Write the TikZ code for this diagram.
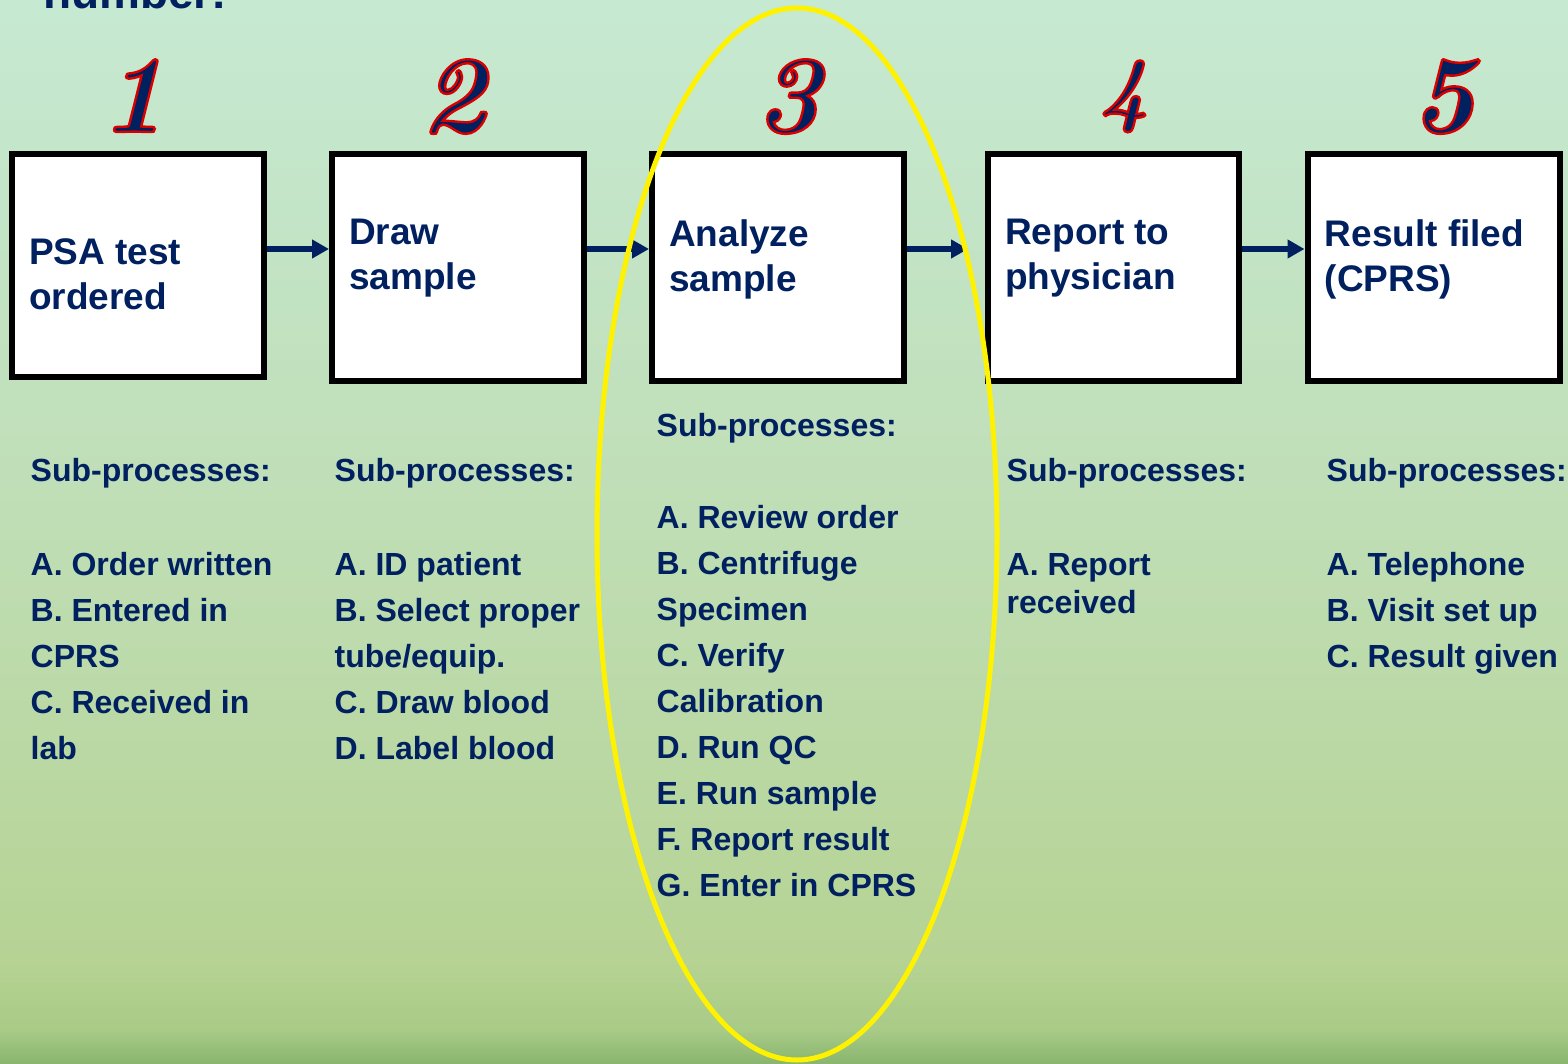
\documentclass[tikz,border=0pt]{standalone}
\usepackage{fontspec}
\setsansfont{Liberation Sans}
\usepackage{tikz}
\usetikzlibrary{arrows.meta, positioning, calc}
\definecolor{navyText}{RGB}{0,32,96}
\definecolor{bgA}{RGB}{198,233,210}
\definecolor{bgB}{RGB}{192,223,184}
\definecolor{bgC}{RGB}{182,211,148}
\definecolor{bgD}{RGB}{168,203,134}
\definecolor{bgE}{RGB}{137,181,111}
% filled glyphs with a red stroke round them
\newcommand\redrim[1]{\special{pdf:code q 2 Tr 2.4 w 0.85 0 0 RG}#1\special{pdf:code Q}}

\begin{document}
\begin{tikzpicture}[x=1pt, y=-1pt,
  stage/.style={draw=black, line width=6pt, fill=white, inner sep=0pt, minimum width=252pt, minimum height=227pt},
  title/.style={anchor=north west, inner sep=0pt, align=left, text=navyText, font=\sffamily\bfseries\fontsize{37}{45}\selectfont},
  sublist/.style={anchor=north west, inner sep=0pt, align=left, text=navyText, font=\sffamily\bfseries\fontsize{32}{46}\selectfont},
  stagenum/.style={anchor=base, inner sep=0pt, text=navyText, font=\rmfamily\bfseries\itshape\fontsize{110}{110}\selectfont},
  flow/.style={draw=navyText, line width=6pt, -{Triangle[length=17pt, width=18pt]}},
  ring/.style={draw=yellow, line width=5pt}]
\useasboundingbox (0,0) rectangle (1568,1064);
\clip (0,0) rectangle (1568,1064);
% background
\shade[top color=bgA, bottom color=bgB] (0,0) rectangle (1568,481);
\shade[top color=bgB, bottom color=bgC] (0,480) rectangle (1568,961);
\shade[top color=bgC, bottom color=bgD] (0,960) rectangle (1568,1031);
\shade[top color=bgD, bottom color=bgE] (0,1030) rectangle (1568,1064);

\node[anchor=base west, inner sep=0pt, text=navyText, font=\sffamily\bfseries\fontsize{46}{46}\selectfont] (hd) at (43,9) {number:};

% process steps
\node[stage, minimum height=223pt] (s1) at (138,265.5) {};
\node[stage] (s2) at (458,267.5) {};
\node[stage] (s3) at (778,267.5) {};
\node[stage, minimum width=251pt] (s4) at (1113.5,267.5) {};
\node[stage] (s5) at (1433.5,267.5) {};

\node[title] (t1) at ($(s1.north west)+(20,87)$) {PSA test\\ordered};
\node[title] (t2) at ($(s2.north west)+(20,68)$) {Draw\\sample};
\node[title] (t3) at ($(s3.north west)+(20,68)$) {Analyze\\sample};
\node[title] (t4) at ($(s4.north west)+(20,68)$) {Report to\\physician};
\node[title] (t5) at ($(s5.north west)+(20,68)$) {Result filed\\(CPRS)};

\node[stagenum] (n1) at (133,132) {\redrim{1}};
\node[stagenum] (n2) at (453,132) {\redrim{2}};
\node[stagenum] (n3) at (788,132) {\redrim{3}};
\node[stagenum, font=\rmfamily\bfseries\itshape\fontsize{84}{84}\selectfont] (n4) at (1124,116) {\redrim{4}};
\node[stagenum] (n5) at (1443,132) {\redrim{5}};

\coordinate (line) at (0,249);
\draw[flow] (s1.east |- line) -- (s2.west |- line);
\draw[flow] (s2.east |- line) -- (s3.west |- line);
\draw[flow, shorten >=17pt] (s3.east |- line) -- (s4.west |- line);
\draw[flow] (s4.east |- line) -- (s5.west |- line);

% sub-processes
\node[sublist] (l1) at (30.5,458) {Sub-processes:\\[48pt]A. Order written\\B. Entered in\\CPRS\\C. Received in\\lab};
\node[sublist] (l2) at (334.5,458) {Sub-processes:\\[48pt]A. ID patient\\B. Select proper\\tube/equip.\\C. Draw blood\\D. Label blood};
\node[sublist] (l3) at (656.5,413) {Sub-processes:\\[46pt]A. Review order\\B. Centrifuge\\Specimen\\C. Verify\\Calibration\\D. Run QC\\E. Run sample\\F. Report result\\G. Enter in CPRS};
\node[sublist] (l4) at (1006.5,458) {Sub-processes:\\[48pt]A. Report\\[-8pt]received};
\node[sublist] (l5) at (1326.5,458) {Sub-processes:\\[48pt]A. Telephone\\B. Visit set up\\C. Result given};

\draw[ring] (797,534) ellipse [x radius=200pt, y radius=526pt];
\end{tikzpicture}
\end{document}
